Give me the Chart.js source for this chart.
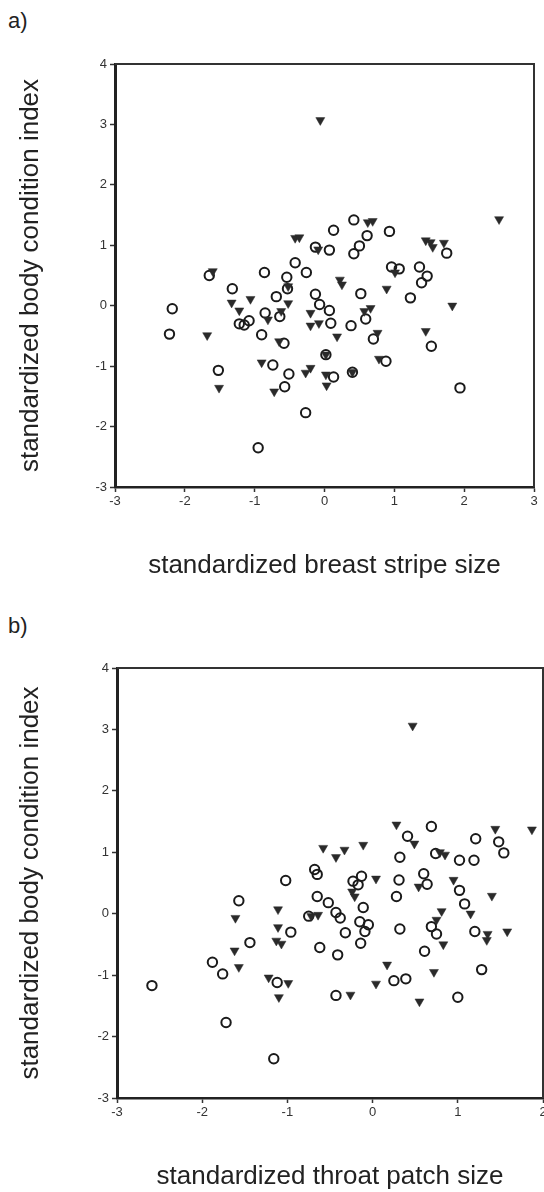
<!DOCTYPE html>
<html>
<head>
<meta charset="utf-8">
<script src="https://cdn.jsdelivr.net/npm/chart.js@4/dist/chart.umd.min.js"></script>
<style>
  html, body { margin: 0; padding: 0; background: #fff; overflow: hidden; }
  body { width: 544px; height: 1192px; position: relative; }
  .panel { position: absolute; left: 0; }
  .tag { position: absolute; left: 8px; font: 22px 'Liberation Sans', Arial, sans-serif; color: #222; }
</style>
</head>
<body>
<div class="tag" style="top:8px">a)</div>
<div class="panel" style="top:0"><canvas id="chartA" width="544" height="600"></canvas></div>
<div class="tag" style="top:613px">b)</div>
<div class="panel" style="top:600px"><canvas id="chartB" width="556" height="592"></canvas></div>
<script>
// panel a: breast stripe vs body condition
const stripeCircles = [
  [-1.65, 0.50], [-0.13, 0.97], [-0.42, 0.71], [-0.26, 0.55], [-0.86, 0.55], [-0.54, 0.47],
  [-1.32, 0.28], [-0.53, 0.28], [-0.69, 0.15], [-0.13, 0.19], [-2.18, -0.05], [-2.22, -0.47],
  [-1.22, -0.30], [-1.15, -0.32], [-1.08, -0.25], [-0.85, -0.12], [-0.64, -0.18], [-0.90, -0.48],
  [-0.58, -0.62], [-0.74, -0.98], [-1.52, -1.07], [-0.51, -1.13], [-0.57, -1.34], [-0.27, -1.77],
  [-0.95, -2.35], [-0.07, 0.02], [0.42, 1.42], [0.13, 1.25], [0.61, 1.16], [0.93, 1.23],
  [0.07, 0.92], [0.42, 0.86], [0.50, 0.99], [1.75, 0.87], [0.96, 0.64], [1.07, 0.61],
  [1.36, 0.64], [1.47, 0.49], [1.39, 0.38], [0.52, 0.20], [1.23, 0.13], [0.07, -0.08],
  [0.09, -0.29], [0.38, -0.33], [0.59, -0.22], [0.70, -0.55], [1.53, -0.67], [0.02, -0.81],
  [0.88, -0.92], [0.13, -1.18], [0.40, -1.10], [1.94, -1.36]
];
const stripeTriangles = [
  [-1.60, 0.57], [-0.42, 1.12], [-0.36, 1.13], [-0.52, 0.32], [-1.33, 0.05], [-1.22, -0.08],
  [-1.06, 0.11], [-0.52, 0.04], [-0.81, -0.23], [-0.62, -0.09], [-1.68, -0.49], [-0.65, -0.59],
  [-0.90, -0.94], [-1.51, -1.36], [-0.72, -1.42], [-0.27, -1.11], [-0.20, -1.03], [-0.20, -0.12],
  [-0.20, -0.33], [-0.08, -0.29], [-0.06, 3.07], [2.50, 1.43], [0.62, 1.38], [0.69, 1.40],
  [-0.09, 0.93], [1.45, 1.08], [1.52, 1.05], [1.55, 0.97], [1.71, 1.04], [1.01, 0.55],
  [0.22, 0.43], [0.25, 0.35], [0.89, 0.28], [1.83, 0.00], [0.18, -0.51], [0.57, -0.09],
  [0.66, -0.04], [0.76, -0.45], [1.45, -0.42], [0.78, -0.88], [0.02, -1.14], [0.03, -1.32],
  [0.02, -0.81], [0.40, -1.10]
];

// panel b: throat patch vs body condition
const throatCircles = [
  [-1.02, 0.54], [-0.68, 0.72], [-0.65, 0.64], [-1.57, 0.21], [-1.44, -0.47], [-1.88, -0.79],
  [-1.76, -0.98], [-2.59, -1.17], [-1.72, -1.77], [-1.16, -2.36], [-0.96, -0.30], [-1.12, -1.12],
  [-0.65, 0.28], [-0.75, -0.04], [-0.62, -0.55], [0.69, 1.42], [0.41, 1.26], [1.21, 1.22],
  [1.48, 1.17], [1.54, 0.99], [0.32, 0.92], [0.74, 0.98], [1.02, 0.87], [1.19, 0.87],
  [-0.23, 0.53], [-0.17, 0.47], [-0.13, 0.61], [0.31, 0.55], [0.60, 0.65], [0.64, 0.48],
  [1.02, 0.38], [0.28, 0.28], [-0.52, 0.18], [-0.11, 0.10], [1.08, 0.16], [-0.43, 0.02],
  [-0.38, -0.07], [-0.15, -0.13], [-0.05, -0.18], [-0.09, -0.29], [-0.32, -0.31], [0.32, -0.25],
  [0.69, -0.21], [0.75, -0.33], [1.20, -0.29], [-0.14, -0.48], [-0.41, -0.67], [0.61, -0.61],
  [1.28, -0.91], [0.25, -1.09], [0.39, -1.06], [-0.43, -1.33], [1.00, -1.36]
];
const throatTriangles = [
  [-1.61, -0.07], [-1.62, -0.60], [-1.57, -0.87], [-1.11, 0.07], [-1.11, -0.22], [-1.13, -0.44],
  [-1.07, -0.49], [-1.22, -1.04], [-0.99, -1.13], [-1.10, -1.36], [-0.72, -0.04], [-0.64, -0.02],
  [0.47, 3.06], [0.28, 1.45], [1.44, 1.38], [1.87, 1.37], [0.49, 1.14], [-0.58, 1.07],
  [-0.33, 1.04], [-0.43, 0.92], [-0.11, 1.12], [0.79, 1.00], [0.85, 0.96], [0.04, 0.57],
  [0.54, 0.44], [0.95, 0.55], [1.40, 0.29], [-0.24, 0.36], [-0.21, 0.28], [1.15, 0.00],
  [0.81, 0.04], [0.75, -0.10], [0.83, -0.50], [1.35, -0.33], [1.34, -0.43], [1.58, -0.29],
  [0.17, -0.83], [0.72, -0.95], [0.04, -1.14], [-0.26, -1.32], [0.55, -1.43]
];

const yLabel = 'standardized body condition index';
const xLabelA = 'standardized breast stripe size';
const xLabelB = 'standardized throat patch size';

const FONT = "'Liberation Sans', Arial, sans-serif";
const INK = '#222';

// top and right edges of the plot box
const frame = {
  id: 'frame',
  beforeDatasetsDraw(chart) {
    const { ctx, chartArea: { left, top, right, bottom } } = chart;
    ctx.save();
    ctx.strokeStyle = '#333';
    ctx.lineWidth = 2;
    ctx.beginPath();
    ctx.moveTo(left, top);
    ctx.lineTo(right, top);
    ctx.lineTo(right, bottom);
    ctx.stroke();
    ctx.restore();
  }
};

function toPoints(pairs) {
  return pairs.map(p => ({ x: p[0], y: p[1] }));
}

function makeChart(id, circles, triangles, opts) {
  const ctx = document.getElementById(id).getContext('2d');
  return new Chart(ctx, {
    type: 'scatter',
    data: {
      datasets: [
        {
          data: toPoints(triangles),
          pointStyle: 'triangle',
          rotation: 180,
          radius: 5.2,
          backgroundColor: '#2a2a2a',
          borderColor: '#2a2a2a',
          borderWidth: 0.5
        },
        {
          data: toPoints(circles),
          pointStyle: 'circle',
          radius: 4.7,
          backgroundColor: 'rgba(0,0,0,0)',
          borderColor: '#1a1a1a',
          borderWidth: 2
        }
      ]
    },
    options: {
      responsive: false,
      animation: false,
      devicePixelRatio: 1,
      layout: { padding: { left: 0, top: opts.top, right: opts.right, bottom: 0 } },
      plugins: { legend: { display: false }, tooltip: { enabled: false } },
      scales: {
        x: {
          type: 'linear',
          min: -3,
          max: opts.xMax,
          ticks: { stepSize: 1, color: '#333', padding: 2, font: { family: FONT, size: 13 } },
          grid: { drawOnChartArea: false, tickLength: 5, color: '#333', tickWidth: 1.5 },
          border: { color: INK, width: 2.5 },
          title: {
            display: true,
            text: opts.xTitle,
            color: INK,
            font: { family: FONT, size: 26 },
            padding: { top: 0, bottom: opts.titleBottom }
          },
          afterFit(scale) { scale.height = opts.xHeight; }
        },
        y: {
          type: 'linear',
          min: -3,
          max: 4,
          ticks: { stepSize: 1, color: '#333', padding: 3, font: { family: FONT, size: 13 } },
          grid: { drawOnChartArea: false, tickLength: 5, color: '#333', tickWidth: 1.5 },
          border: { color: INK, width: 3 },
          title: {
            display: true,
            text: yLabel,
            color: INK,
            font: { family: FONT, size: 26 },
            padding: { top: 15, bottom: 0 }
          },
          afterFit(scale) { scale.width = opts.yWidth; }
        }
      }
    },
    plugins: [frame]
  });
}

makeChart('chartA', stripeCircles, stripeTriangles, {
  top: 64, right: 10, xMax: 3, xTitle: xLabelA, titleBottom: 19, xHeight: 600 - 487, yWidth: 115
});
makeChart('chartB', throatCircles, throatTriangles, {
  top: 68, right: 13, xMax: 2, xTitle: xLabelB, titleBottom: 0, xHeight: 592 - 498, yWidth: 117
});
</script>
</body>
</html>
